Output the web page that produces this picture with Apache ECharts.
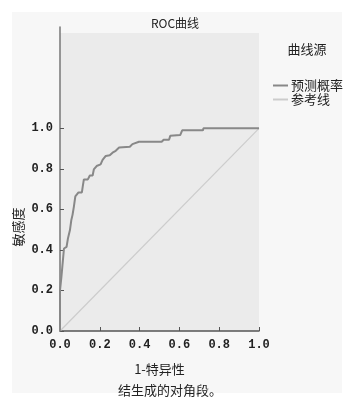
<!DOCTYPE html>
<html><head><meta charset="utf-8">
<script src="https://cdn.jsdelivr.net/npm/echarts@6/dist/echarts.min.js"></script>
<style>html,body{margin:0;padding:0;background:#fff}#c{width:361px;height:405px}</style>
</head><body><div id="c"></div>
<script>
const titleText = 'ROC曲线';
const legendTitle = '曲线源';
const seriesNames = ['预测概率', '参考线'];
const xName = '1-特异性';
const yName = '敏感度';
const footnote = '结生成的对角段。';
const tickValues = [0, 0.2, 0.4, 0.6, 0.8, 1.0];
const rocFPR = [0, 0, 0.007, 0.017, 0.020, 0.033, 0.040, 0.040, 0.050, 0.050, 0.057, 0.063, 0.070, 0.077, 0.087, 0.093, 0.110, 0.114, 0.120, 0.140, 0.150, 0.164, 0.170, 0.184, 0.204, 0.214, 0.230, 0.250, 0.264, 0.280, 0.297, 0.351, 0.364, 0.397, 0.511, 0.521, 0.548, 0.554, 0.604, 0.614, 0.718, 0.721, 1.0];
const rocTPR = [0, 0.20, 0.266, 0.274, 0.407, 0.415, 0.415, 0.457, 0.457, 0.498, 0.548, 0.573, 0.615, 0.664, 0.673, 0.684, 0.684, 0.711, 0.748, 0.748, 0.767, 0.767, 0.797, 0.814, 0.822, 0.844, 0.864, 0.867, 0.880, 0.889, 0.905, 0.909, 0.922, 0.934, 0.934, 0.944, 0.944, 0.963, 0.967, 0.990, 0.990, 1.0, 1.0];
const refX = [0, 1];
const refY = [0, 1];

const chart = echarts.init(document.getElementById('c'), null, {renderer: 'canvas'});
const cjk = '"Noto Sans CJK SC", sans-serif';
const num = '"Liberation Mono", monospace';
chart.setOption({
  animation: false,
  backgroundColor: '#ffffff',
  title: [
    {text: titleText, left: 170, top: 12, textAlign: 'center',
     textStyle: {fontFamily: cjk, fontSize: 12, fontWeight: 'normal', color: '#222'}},
    {text: legendTitle, left: 302, top: 38, textAlign: 'center',
     textStyle: {fontFamily: cjk, fontSize: 13, fontWeight: 'normal', color: '#222'}},
    {text: footnote, left: 165, top: 379, textAlign: 'center',
     textStyle: {fontFamily: cjk, fontSize: 13, fontWeight: 'normal', color: '#222'}}
  ],
  graphic: [
    {type: 'rect', z: -10, silent: true, shape: {x: 12, y: 12, width: 330, height: 381}, style: {fill: '#f7f7f7'}},
    {type: 'rect', z: -5, silent: true, shape: {x: 60, y: 33, width: 199, height: 298}, style: {fill: '#ebebeb'}},
    {type: 'text', x: 18, y: 227, rotation: Math.PI / 2, z: 10,
     style: {text: yName, font: '13px "Noto Sans CJK SC"', fill: '#222', align: 'center', verticalAlign: 'middle'}}
  ],
  legend: {
    orient: 'vertical', left: 268, top: 74, itemGap: 1, itemWidth: 15, itemHeight: 2, icon: 'rect',
    textStyle: {fontFamily: cjk, fontSize: 13, color: '#222', padding: [0, 0, 0, -2]},
    data: seriesNames
  },
  grid: {left: 60, right: 102, top: 27, bottom: 74, containLabel: false},
  xAxis: {
    type: 'value', min: 0, max: 1, interval: 0.2,
    name: xName, nameLocation: 'middle', nameGap: 32,
    nameTextStyle: {fontFamily: cjk, fontSize: 13, color: '#222'},
    axisLine: {show: true, lineStyle: {color: '#555', width: 1.5}},
    axisTick: {show: true, inside: true, length: 4, lineStyle: {color: '#555'}},
    axisLabel: {fontFamily: num, fontSize: 12, fontWeight: 'bold', color: '#222', margin: 8, formatter: v => v.toFixed(1)},
    splitLine: {show: false}
  },
  yAxis: {
    type: 'value', min: 0, max: 1.5,
    axisLine: {show: true, lineStyle: {color: '#777', width: 1.5}},
    axisTick: {show: true, inside: true, length: 4, customValues: tickValues, lineStyle: {color: '#555'}},
    axisLabel: {fontFamily: num, fontSize: 12, fontWeight: 'bold', color: '#222', margin: 7, customValues: tickValues, formatter: v => v.toFixed(1)},
    splitLine: {show: false}
  },
  series: [
    {name: seriesNames[0], type: 'line', showSymbol: false, symbol: 'none', z: 3,
     lineStyle: {color: '#888888', width: 2}, itemStyle: {color: '#888888'},
     data: rocFPR.map((x, i) => [x, rocTPR[i]])},
    {name: seriesNames[1], type: 'line', showSymbol: false, symbol: 'none', z: 2,
     lineStyle: {color: '#cccccc', width: 1.2}, itemStyle: {color: '#cccccc'},
     data: refX.map((x, i) => [x, refY[i]])}
  ]
});
</script></body></html>
